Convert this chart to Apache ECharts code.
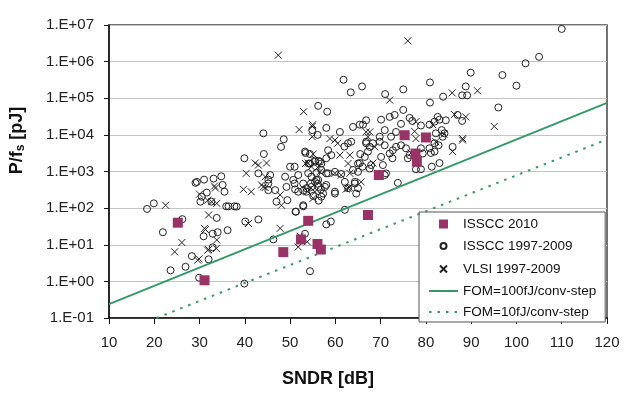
<!DOCTYPE html>
<html>
<head>
<meta charset="utf-8">
<script src="https://cdn.jsdelivr.net/npm/echarts@6/dist/echarts.min.js"></script>
<style>
  html, body { margin: 0; padding: 0; background: #fff; }
  #chart { width: 633px; height: 399px; }
</style>
</head>
<body>
<div id="chart"></div>
<script>
// x ticks and y tick labels (log axis, one label per decade from 1e-1)
const xTicks = [10, 20, 30, 40, 50, 60, 70, 80, 90, 100, 110, 120];
const yTickLabels = ['1.E-01', '1.E+00', '1.E+01', '1.E+02', '1.E+03', '1.E+04', '1.E+05', '1.E+06', '1.E+07'];

// [SNDR dB, P/fs pJ]
const isscc2010 = [
  [25.2, 40], [31.1, 1.07], [48.5, 6.3], [52.4, 14], [56.05, 10.5], [56.8, 7.4],
  [54.0, 45], [67.2, 65], [69.6, 800], [75.3, 9800], [80.0, 8500], [77.7, 3100], [78.0, 1850]
];

const isscc9709 = [
  [18.4, 95], [19.9, 135], [21.9, 22], [26.2, 50], [23.6, 2.0], [26.9, 2.5], [28.3, 4.9], [29.9, 1.26],
  [32.0, 4], [30.9, 17], [32.9, 20], [34.0, 22], [32.9, 8.5], [33.8, 54], [36.2, 25], [39.9, 0.87],
  [40.1, 43], [43.0, 49], [46.3, 14], [53.3, 20], [54.4, 1.9], [51.2, 80], [52.9, 112], [58.0, 36],
  [59.0, 43], [62.1, 90], [38.2, 110], [35.9, 112], [37.7, 112], [36.4, 112],
  [29.1, 490], [29.4, 520], [31.0, 600], [33.1, 640], [34.8, 740], [35.1, 430], [35.5, 280], [31.6, 265],
  [30.5, 205], [32.6, 150], [30.2, 150],
  [39.9, 2300], [44.2, 3000], [44.1, 11000], [48.6, 7600], [48.0, 4700], [43.0, 890], [45.6, 800], [48.9, 720],
  [50.0, 1350], [51.0, 1350], [51.8, 800], [50.7, 590], [53.4, 3200], [54.0, 900], [54.7, 720], [55.8, 910],
  [56.2, 590], [55.5, 520], [45.2, 310], [46.7, 310], [49.2, 380], [51.8, 280], [52.9, 300], [53.6, 350],
  [47.0, 150], [49.4, 165], [45.2, 600], [45.2, 470], [51.0, 470], [51.1, 325], [54.6, 470], [56.1, 460],
  [56.3, 380], [56.8, 325], [57.3, 250], [55.1, 215], [56.3, 160], [56.9, 205], [52.9, 120], [51.3, 80],
  [56.9, 1650], [56.3, 1950], [55.5, 1850], [53.3, 3500], [54.4, 3000], [54.1, 1650], [58.4, 890], [59.9, 980],
  [61.3, 860], [58.0, 430], [58.4, 3800], [59.1, 2800], [58.0, 2300], [64.3, 470], [64.6, 250], [65.0, 350],
  [59.9, 250], [62.8, 350],
  [56.2, 62000], [54.9, 13500], [56.1, 10000], [58.2, 43000], [58.0, 15500], [61.0, 12000], [63.9, 16500],
  [65.4, 19000], [61.8, 320000], [63.4, 145000], [65.9, 210000], [71.0, 130000], [75.0, 175000], [80.9, 270000],
  [89.9, 500000], [88.8, 210000], [88.0, 120000], [89.1, 120000], [83.8, 110000], [80.9, 76000], [75.0, 48000],
  [72.0, 31000], [73.1, 35000], [70.1, 26000], [66.8, 25000], [66.1, 19000], [76.4, 29000], [77.0, 24000],
  [78.9, 18000], [80.8, 19000], [81.9, 23000], [83.0, 26000], [84.4, 25000], [88.0, 24000], [83.5, 13500],
  [62.8, 5900], [63.5, 6500], [62.0, 4800],
  [65.5, 3000], [65.4, 1700], [65.0, 980], [66.8, 6500], [67.6, 4700], [67.2, 3500], [69.8, 6500], [70.9, 5200],
  [70.1, 2500], [72.0, 3100], [72.6, 2300], [70.5, 1500], [66.0, 1350], [67.6, 1200], [70.9, 800], [73.8, 490],
  [73.4, 4700], [74.5, 5200], [75.6, 4300], [76.4, 2800], [76.0, 2300], [77.8, 1150], [78.9, 1150], [78.9, 4300],
  [79.3, 3100], [80.8, 4300], [81.1, 3200], [81.9, 3500], [81.9, 5900], [82.8, 5200], [84.1, 11000], [83.7, 8900],
  [83.0, 1700], [85.9, 4700], [82.2, 11000],
  [52.9, 470], [54.4, 1650], [55.5, 2000], [56.6, 1850], [56.9, 1100], [55.8, 590], [54.7, 380], [53.6, 280],
  [57.7, 380], [58.0, 890], [59.9, 280], [62.1, 520], [64.3, 520], [63.9, 1100], [65.0, 1650], [66.5, 2500],
  [66.8, 5900], [68.3, 5900], [67.9, 1500], [71.2, 890], [72.7, 3800], [72.3, 8900], [69.8, 8900], [70.9, 13500],
  [73.4, 12000], [74.5, 20000], [82.6, 31000], [81.3, 1350], [87.0, 35000],
  [110, 7.8e6], [105, 1.35e6], [102, 9e5], [96.9, 4.3e5], [100, 2.2e5], [96, 5.6e4]
];

const vlsi9709 = [
  [47.4, 1.5e6], [53.0, 43000], [52.0, 14000], [54.9, 17000], [54.9, 8900], [40.3, 890], [42.3, 1700],
  [43.0, 1500], [44.8, 1700], [44.5, 720], [55.1, 3000], [54.0, 1700], [30.0, 240], [33.5, 355], [39.7, 325],
  [41.4, 280], [43.7, 430], [22.5, 120], [26.1, 11.5], [24.5, 6.4], [29.9, 4.1], [31.3, 26], [33.8, 13.5],
  [32.0, 7.4], [32.0, 65], [40.8, 38], [47.8, 28], [51.8, 8.7], [52.2, 17], [53.8, 12], [32.7, 150],
  [33.8, 135], [48.1, 120], [44.1, 380], [76.0, 3.7e6], [91.4, 1.6e5], [85.8, 1.4e5], [72.0, 8.9e4],
  [66.8, 12000], [77.8, 23000], [86.3, 36000], [88.8, 31000], [77.5, 12500], [81.5, 19000], [67.2, 8900],
  [65.7, 520], [68.3, 1700], [77.8, 7900], [82.2, 6500], [85.9, 3500], [88.1, 7900], [75.6, 8900],
  [95.1, 17000], [55.0, 19000], [58.8, 7900], [60.5, 5900], [44.5, 365], [47.8, 230], [54.6, 350],
  [53.9, 280], [55.5, 280], [55.1, 185], [56.1, 1300], [56.6, 980], [53.4, 1650], [54.7, 1350], [59.9, 890],
  [61.3, 800], [63.2, 890], [61.0, 2800], [63.2, 2800], [62.8, 350], [62.4, 330], [63.1, 370], [31.8, 165],
  [33.3, 400], [31.1, 28], [33.7, 7.9], [31.8, 7.1], [29.6, 3.8], [84.0, 10500], [76.7, 3200], [62.8, 1650],
  [59.9, 7200], [67.6, 12000], [68.7, 4700], [88.1, 7200]
];

// FOM lines, end points
const fom100 = [[10, 0.24], [120, 7.5e4]];
const fom10 = [[20.5, 0.1], [120, 7.5e3]];

const green = '#339966';
const plum = '#993366';
const font = 'Liberation Sans, Arial, sans-serif';
const crossPath = 'path://M0,0L10,10M10,0L0,10';

const chart = echarts.init(document.getElementById('chart'));

chart.setOption({
  animation: false,
  textStyle: { fontFamily: font },
  grid: {
    left: 107, right: 26, top: 25, bottom: 81,
    show: true, borderColor: '#444', borderWidth: 1.5, backgroundColor: '#fff'
  },
  legend: {
    orient: 'vertical',
    left: 419, top: 212,
    backgroundColor: '#fff',
    borderColor: '#555', borderWidth: 1,
    padding: [5, 9, 3, 9],
    itemWidth: 29, itemHeight: 14, itemGap: 7,
    textStyle: { fontFamily: font, fontSize: 13.5, color: '#111' },
    data: [
      { name: 'ISSCC 2010', icon: 'path://M0,0M14,14M2.5,2.5H11.5V11.5H2.5Z' },
      { name: 'ISSCC 1997-2009', icon: 'path://M0,0M14,14M10,7A3,3 0 1 1 4,7A3,3 0 1 1 10,7Z' },
      { name: 'VLSI 1997-2009', icon: 'path://M0,0M14,14M3.5,3.5L10.5,10.5M10.5,3.5L3.5,10.5' },
      { name: 'FOM=100fJ/conv-step' },
      { name: 'FOM=10fJ/conv-step' }
    ]
  },
  xAxis: {
    type: 'value',
    min: 10, max: 120, interval: 10,
    name: 'SNDR [dB]',
    nameLocation: 'middle',
    nameGap: 52,
    nameTextStyle: { fontFamily: font, fontSize: 18, fontWeight: 'bold', color: '#111', padding: [0, 60, 0, 0] },
    axisLine: { show: true, lineStyle: { color: '#111', width: 1.5 } },
    axisTick: { show: true, length: 6, lineStyle: { color: '#111' } },
    axisLabel: {
      fontSize: 15, color: '#222', margin: 17,
      formatter: v => (xTicks.includes(v) ? String(v) : '')
    },
    splitLine: { show: false }
  },
  yAxis: {
    type: 'log',
    logBase: 10,
    min: 0.1, max: 1e7,
    name: '{a|P/f}{s|s}{a| [pJ]}',
    nameLocation: 'middle',
    nameGap: 82,
    nameTextStyle: {
      padding: [0, 0, 0, 62],
      rich: {
        a: { fontFamily: font, fontSize: 18, fontWeight: 'bold', color: '#111' },
        s: { fontFamily: font, fontSize: 12, fontWeight: 'bold', color: '#111', padding: [8, 0, 0, 0] }
      }
    },
    axisLine: { show: true, lineStyle: { color: '#111', width: 1.5 } },
    axisTick: { show: true, length: 5, lineStyle: { color: '#111' } },
    minorTick: { show: false },
    axisLabel: {
      fontSize: 15, color: '#222', margin: 15,
      formatter: v => yTickLabels[Math.round(Math.log10(v)) + 1] || ''
    },
    splitLine: { show: true, lineStyle: { color: '#c4c4c4', width: 1 } }
  },
  series: [
    {
      name: 'ISSCC 2010',
      type: 'scatter',
      data: isscc2010,
      symbol: 'rect',
      symbolSize: 10,
      itemStyle: { color: plum, opacity: 1 },
      z: 5
    },
    {
      name: 'ISSCC 1997-2009',
      type: 'scatter',
      data: isscc9709,
      symbol: 'circle',
      symbolSize: 7,
      itemStyle: { color: 'transparent', borderColor: '#222', borderWidth: 1, opacity: 1 },
      z: 3
    },
    {
      name: 'VLSI 1997-2009',
      type: 'scatter',
      data: vlsi9709,
      symbol: crossPath,
      symbolSize: 7,
      itemStyle: { color: 'transparent', borderColor: '#222', borderWidth: 1, opacity: 1 },
      z: 3
    },
    {
      name: 'FOM=100fJ/conv-step',
      type: 'line',
      data: fom100,
      symbol: 'none',
      lineStyle: { color: green, width: 2 },
      itemStyle: { color: 'transparent', borderWidth: 0 },
      z: 4
    },
    {
      name: 'FOM=10fJ/conv-step',
      type: 'line',
      data: fom10,
      symbol: 'none',
      lineStyle: { color: green, width: 2, type: [2.5, 6] },
      itemStyle: { color: 'transparent', borderWidth: 0 },
      z: 4
    }
  ]
});
</script>
</body>
</html>
